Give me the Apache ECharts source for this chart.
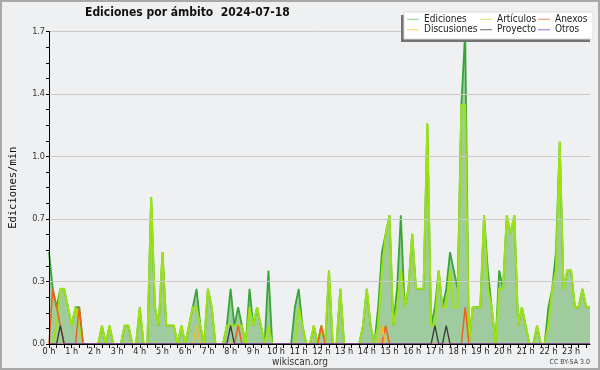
<!DOCTYPE html>
<html><head><meta charset="utf-8">
<script src="https://cdn.jsdelivr.net/npm/echarts@6/dist/echarts.min.js"></script>
<style>html,body{margin:0;padding:0;background:#eff0f2}#c{width:600px;height:370px}</style>
</head><body><div id="c"></div>
<script>
// Hour tick labels (one per hour; bins are 10 minutes)
const hourLabels = ['0 h','1 h','2 h','3 h','4 h','5 h','6 h','7 h','8 h','9 h','10 h','11 h',
  '12 h','13 h','14 h','15 h','16 h','17 h','18 h','19 h','20 h','21 h','22 h','23 h'];
// 10-minute categories
const categories = [];
for (let h = 0; h < 24; h++) for (let m = 0; m < 60; m += 10) categories.push(h + ':' + (m < 10 ? '0' : '') + m);

const ediciones = [
  0.5,0.3,0.2,0.3,0.3,0.2,0.1,0.2,0.2,0,
  0,0,0,0,0.1,0,0.1,0,0,0,
  0.1,0.1,0,0,0.2,0,0,0.8,0.2,0.1,
  0.5,0.1,0.1,0.1,0,0.1,0,0.1,0.2,0.3,
  0.1,0,0.3,0.2,0,0,0,0.1,0.3,0.1,
  0.2,0.1,0,0.3,0.1,0.2,0.1,0,0.4,0,
  0,0,0,0,0,0.2,0.3,0.1,0,0,
  0.1,0,0.1,0,0.4,0,0,0.3,0,0,
  0,0,0,0.1,0.3,0.1,0,0.2,0.5,0.6,
  0.7,0.1,0.3,0.7,0.2,0.3,0.6,0.3,0.3,0.3,
  1.2,0.1,0.2,0.4,0.2,0.3,0.5,0.4,0.3,1.3,
  1.7,0,0.2,0.2,0.2,0.7,0.4,0.2,0,0.4,
  0.3,0.7,0.6,0.7,0.1,0.2,0.1,0,0,0.1,
  0,0,0.2,0.3,0.5,1.1,0.3,0.4,0.4,0.2,
  0.2,0.3,0.2,0.2
];
const articulos = [
  0,0,0.1,0.3,0.3,0.2,0.1,0.2,0.1,0,
  0,0,0,0,0.1,0,0.1,0,0,0,
  0.1,0.1,0,0,0.2,0,0,0.8,0.2,0.1,
  0.5,0.1,0.1,0.1,0,0.1,0,0.1,0.2,0.2,
  0.1,0,0.3,0.2,0,0,0,0.1,0.1,0.1,
  0.1,0.1,0,0.2,0.1,0.2,0.1,0,0.1,0,
  0,0,0,0,0,0,0.2,0.1,0,0,
  0.1,0,0.1,0,0.4,0,0,0.3,0,0,
  0,0,0,0.1,0.3,0.1,0,0.1,0.4,0.6,
  0.7,0.1,0.2,0.4,0.2,0.3,0.6,0.3,0.3,0.3,
  1.2,0.1,0.1,0.4,0.2,0.2,0.4,0.2,0.2,1.3,
  1.3,0,0.2,0.2,0.2,0.7,0.3,0.2,0,0.3,
  0.3,0.7,0.6,0.7,0.1,0.2,0.1,0,0,0.1,
  0,0,0.1,0.3,0.4,1.1,0.3,0.4,0.4,0.2,
  0.2,0.3,0.2,0.2
];
const anexos = [
  0,0.3,0.2,0.1,0,0,0,0,0.2,0,
  0,0,0,0,0,0,0,0,0,0,
  0,0,0,0,0,0,0,0,0,0,
  0,0,0,0,0,0,0,0,0,0,
  0,0,0,0,0,0,0,0,0,0,
  0.1,0,0,0,0,0,0,0,0,0,
  0,0,0,0,0,0,0,0,0,0,
  0,0,0.1,0,0,0,0,0,0,0,
  0,0,0,0,0,0,0,0,0,0.1,
  0,0,0,0,0,0,0,0,0,0,
  0,0,0,0,0,0,0,0,0,0,
  0.2,0,0,0,0,0,0,0,0,0,
  0,0,0,0,0,0,0,0,0,0,
  0,0,0,0,0,0,0,0,0,0,
  0,0,0,0
];
const discusiones = [
  0,0,0,0,0,0,0,0,0,0,
  0,0,0,0,0,0,0,0,0,0,
  0,0,0,0,0,0,0,0,0,0,
  0,0,0,0,0,0,0,0,0,0.1,
  0,0,0,0,0,0,0,0,0,0,
  0,0,0,0,0,0,0,0,0,0,
  0,0,0,0,0,0,0,0,0,0,
  0,0,0,0,0,0,0,0,0,0,
  0,0,0,0,0,0,0,0,0.1,0,
  0,0,0,0,0,0,0,0,0,0,
  0,0,0,0,0,0,0,0,0,0,
  0,0,0,0,0,0,0,0,0,0,
  0,0,0,0,0,0,0,0,0,0,
  0,0,0,0,0,0,0,0,0,0,
  0,0,0,0
];
const proyecto = [
  0,0,0,0.1,0,0,0,0,0,0,
  0,0,0,0,0,0,0,0,0,0,
  0,0,0,0,0,0,0,0,0,0,
  0,0,0,0,0,0,0,0,0,0,
  0,0,0,0,0,0,0,0,0.1,0,
  0,0,0,0,0,0,0,0,0,0,
  0,0,0,0,0,0,0,0,0,0,
  0,0,0,0,0,0,0,0,0,0,
  0,0,0,0,0,0,0,0,0,0,
  0,0,0,0,0,0,0,0,0,0,
  0,0,0.1,0,0,0.1,0,0,0,0,
  0,0,0,0,0,0,0,0,0,0,
  0,0,0,0,0,0,0,0,0,0,
  0,0,0,0,0,0,0,0,0,0,
  0,0,0,0
];
const otros = [
  0,0,0,0,0,0,0,0,0,0,
  0,0,0,0,0,0,0,0,0,0,
  0,0,0,0,0,0,0,0,0,0,
  0,0,0,0,0,0,0,0,0,0,
  0,0,0,0,0,0,0,0,0,0,
  0,0,0,0,0,0,0,0,0,0,
  0,0,0,0,0,0,0,0,0,0,
  0,0,0,0,0,0,0,0,0,0,
  0,0,0,0,0,0,0,0,0,0,
  0,0,0,0,0,0,0,0,0,0,
  0,0,0,0,0,0,0,0,0,0,
  0,0,0,0,0,0,0,0,0,0,
  0,0,0,0,0,0,0,0,0,0,
  0,0,0,0,0,0,0,0,0,0,
  0,0,0,0
];

const FONT = "'DejaVu Sans Condensed','Liberation Sans',sans-serif";

function lineSeries(name, data, lineColor, legendColor, width, extra) {
  return Object.assign({
    name: name, type: 'line', data: data, symbol: 'none', showSymbol: false,
    lineStyle: { color: lineColor, width: width },
    itemStyle: { color: legendColor },
    emphasis: { disabled: true }
  }, extra || {});
}

const legendCommon = {
  orient: 'vertical', top: 14, itemGap: 0, itemWidth: 12, itemHeight: 1, icon: 'rect',
  padding: 0, z: 60, selectedMode: false,
  textStyle: { fontSize: 10, color: '#222', fontFamily: FONT, lineHeight: 10.5 }
};

const chart = echarts.init(document.getElementById('c'), null, { renderer: 'canvas' });
chart.setOption({
  animation: false,
  backgroundColor: '#eff0f2',
  title: {
    text: 'Ediciones por ámbito  2024-07-18', left: 85, top: 7, padding: 0,
    textStyle: { fontSize: 12, fontWeight: 'bold', color: '#111', fontFamily: FONT }
  },
  legend: [
    Object.assign({}, legendCommon, { left: 407, data: ['Ediciones', 'Discusiones'] }),
    Object.assign({}, legendCommon, { left: 480, data: ['Artículos', 'Proyecto'] }),
    Object.assign({}, legendCommon, { left: 538, data: ['Anexos', 'Otros'] })
  ],
  grid: { left: 46, right: 10, top: 31.5, bottom: 26 },
  xAxis: {
    type: 'category', data: categories, boundaryGap: false, z: 10,
    axisLine: { lineStyle: { color: '#000', width: 1 } },
    axisTick: { length: 4, interval: (i) => i % 2 === 0, lineStyle: { color: '#000' } },
    splitLine: { show: false },
    axisLabel: {
      margin: 3, fontSize: 9, color: '#222', fontFamily: FONT,
      interval: (i) => i % 6 === 0,
      formatter: (v, i) => hourLabels[Math.floor(i / 6)]
    }
  },
  yAxis: {
    type: 'value', min: 0, max: 1.7, interval: 0.34, z: 10,
    axisLine: { show: true, lineStyle: { color: '#000', width: 1 } },
    axisTick: { show: true, length: 3, lineStyle: { color: '#000' } },
    minorTick: { show: true, splitNumber: 4, length: 3, lineStyle: { color: '#000' } },
    splitLine: { show: true, lineStyle: { color: '#c9c9c9', width: 1 } },
    axisLabel: { margin: 4, fontSize: 9, color: '#333', fontFamily: FONT, formatter: (v) => v.toFixed(1) },
    name: 'Ediciones/min', nameLocation: 'middle', nameGap: 30,
    nameTextStyle: { fontSize: 10.5, color: '#111', fontFamily: "'DejaVu Sans Mono',monospace" }
  },
  series: [
    lineSeries('Ediciones', ediciones, '#36a636', '#86cf86', 1.8,
      { areaStyle: { color: '#9fcb9f', opacity: 1 } }),
    lineSeries('Artículos', articulos, '#9ee212', '#c8ee60', 2),
    lineSeries('Anexos', anexos, '#f0601c', '#f28a5c', 1.5),
    lineSeries('Discusiones', discusiones, '#f0c028', '#f5d46a', 1.5),
    lineSeries('Proyecto', proyecto, '#3a3a3a', '#666666', 1.3),
    lineSeries('Otros', otros, '#9040e0', '#a468ee', 1.2)
  ],
  graphic: [
    { type: 'rect', z: 50, silent: true, shape: { x: 401, y: 15, width: 189, height: 27 }, style: { fill: '#737373' } },
    { type: 'rect', z: 51, silent: true, shape: { x: 404, y: 12, width: 189, height: 27 }, style: { fill: '#ffffff', stroke: '#dcdcdc', lineWidth: 1 } },
    { type: 'text', z: 60, silent: true, x: 300, y: 362, style: { text: 'wikiscan.org', fontSize: 10, fill: '#333', fontFamily: FONT, align: 'center', verticalAlign: 'middle' } },
    { type: 'text', z: 60, silent: true, x: 590, y: 362.5, style: { text: 'CC BY-SA 3.0', fontSize: 7, fill: '#444', fontFamily: FONT, align: 'right', verticalAlign: 'middle' } },
    { type: 'rect', z: 100, silent: true, shape: { x: 1, y: 1, width: 598, height: 368 }, style: { fill: 'none', stroke: '#a9a9a9', lineWidth: 2 } }
  ]
});
</script>
</body></html>
